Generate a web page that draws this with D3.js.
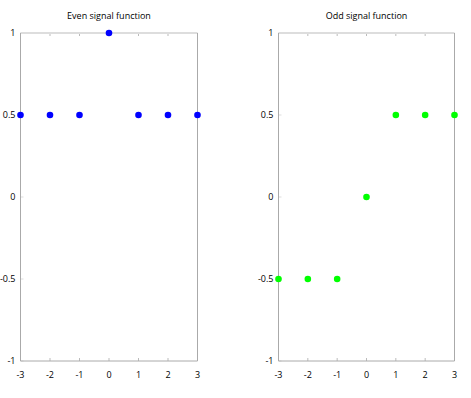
<!DOCTYPE html>
<html><head><meta charset="utf-8">
<script src="https://cdn.jsdelivr.net/npm/d3@7"></script>
<style>body{margin:0;background:#fff}text{font-family:"Open Sans","Noto Sans",sans-serif;font-size:9px;fill:#000}</style>
</head><body><svg id="c" width="471" height="398"></svg>
<script>
const xValues = [-3, -2, -1, 0, 1, 2, 3];
const evenValues = [0.5, 0.5, 0.5, 1, 0.5, 0.5, 0.5];
const oddValues = [-0.5, -0.5, -0.5, 0, 0.5, 0.5, 0.5];
const xTicks = [-3, -2, -1, 0, 1, 2, 3];
const yTicks = [-1, -0.5, 0, 0.5, 1];
const titles = ["Even signal function", "Odd signal function"];
const colors = ["#0000ff", "#00ff00"];

(function () {
const svg = d3.select("#c");
const panels = [
  {left: 20.5, right: 197.5, values: evenValues},
  {left: 278.5, right: 454.5, values: oddValues}
];
const topY = 33, bottomY = 361;
panels.forEach((p, i) => {
  const x = d3.scaleLinear().domain([-3, 3]).range([p.left, p.right]);
  const y = d3.scaleLinear().domain([-1, 1]).range([bottomY, topY]);
  const g = svg.append("g");
  xTicks.forEach(t => {
    g.append("line").attr("x1", x(t)).attr("x2", x(t)).attr("y1", bottomY).attr("y2", bottomY - 3).attr("stroke", "#bbb");
    g.append("line").attr("x1", x(t)).attr("x2", x(t)).attr("y1", topY).attr("y2", topY + 3).attr("stroke", "#bbb");
    g.append("text").attr("x", x(t)).attr("y", bottomY + 17).attr("text-anchor", "middle").text(String(t));
  });
  yTicks.forEach(t => {
    g.append("line").attr("x1", p.left).attr("x2", p.left + 3).attr("y1", y(t)).attr("y2", y(t)).attr("stroke", "#ddd");
    g.append("text").attr("x", p.left - 5).attr("y", y(t) + 3).attr("text-anchor", "end").text(String(t));
  });
  g.append("line").attr("x1", p.left).attr("x2", p.right).attr("y1", topY).attr("y2", topY).attr("stroke", "#ddd").attr("stroke-width", 2);
  g.append("line").attr("x1", p.left).attr("x2", p.left).attr("y1", topY).attr("y2", bottomY).attr("stroke", "#aaa");
  g.append("line").attr("x1", p.right).attr("x2", p.right).attr("y1", topY).attr("y2", bottomY).attr("stroke", "#aaa");
  g.append("line").attr("x1", p.left).attr("x2", p.right).attr("y1", bottomY).attr("y2", bottomY).attr("stroke", "#aaa");
  g.append("text").attr("x", (p.left + p.right) / 2).attr("y", 19).attr("text-anchor", "middle").text(titles[i]);
  g.selectAll("circle").data(xValues).join("circle")
    .attr("cx", d => x(d)).attr("cy", (d, j) => y(p.values[j])).attr("r", 3.3).attr("fill", colors[i]);
});
})();
</script></body></html>
